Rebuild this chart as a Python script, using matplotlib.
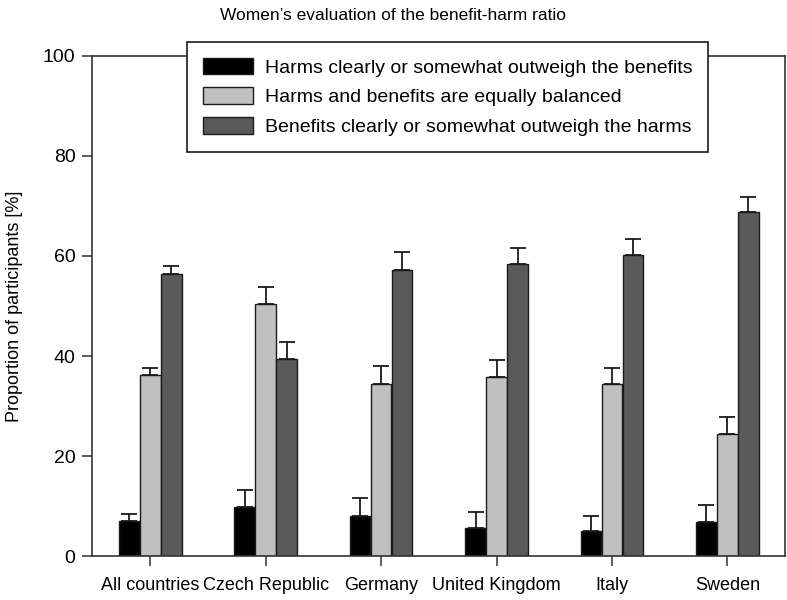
import matplotlib
matplotlib.use("Agg")
import matplotlib.pyplot as plt
import numpy as np

plt.rcParams['font.family'] = ['Liberation Sans', 'DejaVu Sans']

countries = ["All countries", "Czech Republic", "Germany", "United Kingdom", "Italy", "Sweden"]
series_names = [
    "Harms clearly or somewhat outweigh the benefits",
    "Harms and benefits are equally balanced",
    "Benefits clearly or somewhat outweigh the harms",
]
harms = [7.1, 9.9, 8.1, 5.7, 5.1, 6.9]
harms_err = [1.4, 3.3, 3.5, 3.2, 3.0, 3.3]
balanced = [36.2, 50.4, 34.5, 35.8, 34.5, 24.5]
balanced_err = [1.5, 3.4, 3.5, 3.4, 3.2, 3.4]
benefits = [56.4, 39.5, 57.2, 58.3, 60.2, 68.7]
benefits_err = [1.6, 3.4, 3.5, 3.3, 3.1, 3.1]
colors = ["#000000", "#c0c0c0", "#5a5a5a"]

fig = plt.figure(figsize=(7.87, 6.0), dpi=100)
ax = fig.add_axes([0.117, 0.0733, 0.8805, 0.8334])

x = np.arange(len(countries))
width = 0.178
offsets = [-0.182, 0.0, 0.182]
data = [harms, balanced, benefits]
errs = [harms_err, balanced_err, benefits_err]
handles = []
for i in range(3):
    b = ax.bar(x + offsets[i], data[i], width, color=colors[i], edgecolor="#1a1a1a",
               linewidth=1.0, label=series_names[i], zorder=2)
    ax.errorbar(x + offsets[i], data[i], yerr=[np.zeros(len(x)), errs[i]], fmt="none",
                ecolor="#1a1a1a", elinewidth=1.3, capsize=5.8, capthick=1.3, zorder=3)
    handles.append(b)

ax.set_xlim(-0.505, 5.5)
ax.set_ylim(0, 100)
ax.set_yticks([0, 20, 40, 60, 80, 100])
ax.set_xticks(x)
ax.set_xticklabels(countries, fontsize=13)
ax.tick_params(axis='y', labelsize=14, direction='out', length=7, width=1.1, color="#333333", pad=5)
ax.tick_params(axis='x', direction='out', length=7, width=1.1, color="#333333", pad=8)
for s in ax.spines.values():
    s.set_linewidth(1.2)
    s.set_color("#333333")

ax.set_ylabel("Proportion of participants [%]", fontsize=13, labelpad=14)
fig.text(0.5, 0.974, "Women\u2019s evaluation of the benefit-harm ratio", ha="center", va="center", fontsize=12.5)

leg = ax.legend(handles=handles, loc="upper left", bbox_to_anchor=(0.137, 1.028), fontsize=14,
                frameon=True, fancybox=False, edgecolor="#1a1a1a", framealpha=1,
                handlelength=2.6, handleheight=0.95, handletextpad=0.6, labelspacing=0.55,
                borderpad=0.8, borderaxespad=0)
leg.get_frame().set_linewidth(1.2)
leg.set_zorder(5)

fig.savefig("out.png", dpi=100)
